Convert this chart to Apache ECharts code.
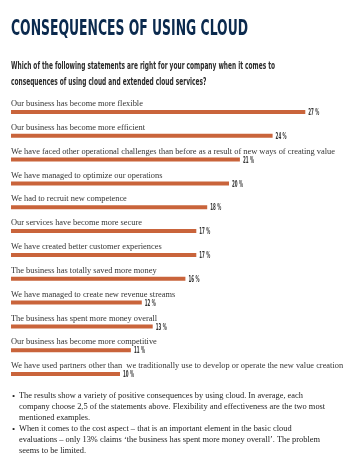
<!DOCTYPE html>
<html><head><meta charset="utf-8">
<script src="https://cdn.jsdelivr.net/npm/echarts@6/dist/echarts.min.js"></script>
<style>html,body{margin:0;padding:0;background:#fff}#c{width:350px;height:465px}</style>
</head><body><div id="c"></div>
<script>
const categories = [
  "Our business has become more flexible",
  "Our business has become more efficient",
  "We have faced other operational challenges than before as a result of new ways of creating value",
  "We have managed to optimize our operations",
  "We had to recruit new competence",
  "Our services have become more secure",
  "We have created better customer experiences",
  "The business has totally saved more money",
  "We have managed to create new revenue streams",
  "The business has spent more money overall",
  "Our business has become more competitive",
  "We have used partners other than  we traditionally use to develop or operate the new value creation"
];
const values = [27, 24, 21, 20, 18, 17, 17, 16, 12, 13, 11, 10];
const titleText = "CONSEQUENCES OF USING CLOUD";
const subtitleLines = [
  "Which of the following statements are right for your company when it comes to",
  "consequences of using cloud and extended cloud services?"
];
const bulletLines = [
  ["•", "The results show a variety of positive consequences by using cloud. In average, each"],
  ["", "company choose 2,5 of the statements above. Flexibility and effectiveness are the two most"],
  ["", "mentioned examples."],
  ["•", "When it comes to the cost aspect – that is an important element in the basic cloud"],
  ["", "evaluations – only 13% claims ‘the business has spent more money overall’. The problem"],
  ["", "seems to be limited."]
];

const sans = '"DejaVu Sans",sans-serif';
const serif = '"Liberation Serif","DejaVu Serif",serif';
const ctx = document.createElement('canvas').getContext('2d');
function textW(t, font){ ctx.font = font; return ctx.measureText(t).width; }

const titleFont = 'bold 21px ' + sans;
const titleScale = 237 / textW(titleText, titleFont);
const subFont = 'bold 11px ' + sans;
const subScale = 264 / textW(subtitleLines[0], subFont);
const valFont = 'bold 8.5px ' + sans;
const valScale = 11 / textW('27 %', valFont);

const graphics = [];
graphics.push({type:'text', x:11, y:19, scaleX:titleScale, style:{text:titleText, font:titleFont, fill:'#0b2a4e', textVerticalAlign:'top'}});
subtitleLines.forEach((t,i)=>graphics.push({type:'text', x:11, y:61+i*15.5, scaleX:subScale, style:{text:t, font:subFont, fill:'#2b2b2b', textVerticalAlign:'top'}}));
bulletLines.forEach((b,i)=>{
  if (b[0]) graphics.push({type:'text', left:12, top:392+i*10.9, style:{text:b[0], font:'9px '+serif, fill:'#222'}});
  graphics.push({type:'text', left:19, top:392+i*10.9, style:{text:b[1], font:'8.4px '+serif, fill:'#222'}});
});

const chart = echarts.init(document.getElementById('c'), null, {renderer:'canvas'});
chart.setOption({
  animation:false,
  backgroundColor:'#fff',
  graphic: graphics,
  grid:{left:11, right:12, top:100, bottom:79},
  xAxis:{type:'value', min:0, max:30, show:false},
  yAxis:{type:'category', data:categories, inverse:true,
    axisLine:{show:false}, axisTick:{show:false},
    axisLabel:{inside:true, margin:0, align:'left', verticalAlign:'bottom', padding:[0,0,4,0],
      fontFamily:serif, fontSize:8.4, color:'#333'}},
  series:[{type:'bar', data:values, barWidth:4, itemStyle:{color:'#c9643b'}}]
});
const valueLabels = values.map((v,i)=>{
  const p = chart.convertToPixel({gridIndex:0}, [v, i]);
  return {type:'text', x:p[0]+3, y:p[1]+1, scaleX:valScale,
    style:{text:v+' %', font:valFont, fill:'#333', textVerticalAlign:'middle'}};
});
chart.setOption({graphic: graphics.concat(valueLabels)});
</script></body></html>
